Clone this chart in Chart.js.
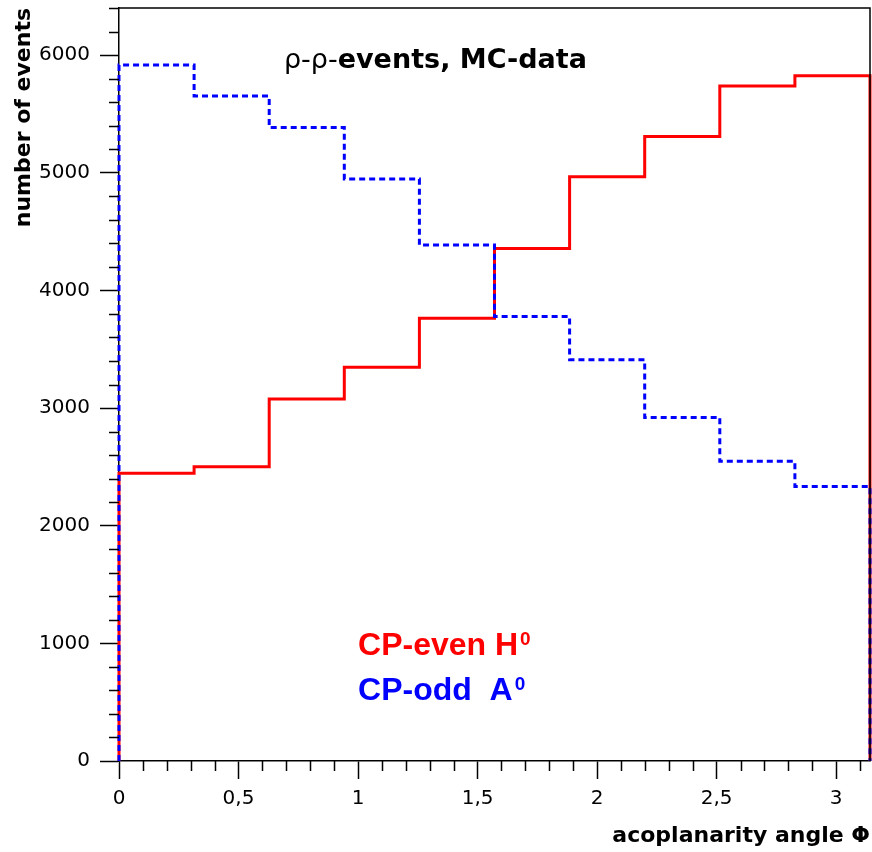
<!DOCTYPE html>
<html>
<head>
<meta charset="utf-8">
<script src="https://cdn.jsdelivr.net/npm/chart.js@4"></script>
<style>
  html, body { margin: 0; padding: 0; background: #fff; }
  #wrap { width: 872px; height: 852px; }
</style>
</head>
<body>
<div id="wrap"><canvas id="hist"></canvas></div>
<script>
// bin contents, 10 bins over 0..pi
const cpEven = [2445, 2500, 3076, 3346, 3764, 4355, 4965, 5308, 5737, 5824];
const cpOdd = [5915, 5651, 5385, 4947, 4385, 3778, 3411, 2920, 2547, 2334];
const nBins = 10;
const binEdges = Array.from({length: nBins + 1}, (_, i) => i * Math.PI / nBins);
const xTicks = [0, 0.5, 1, 1.5, 2, 2.5, 3];
const yTicks = [0, 1000, 2000, 3000, 4000, 5000, 6000];
const seriesNames = ["CP-even H", "CP-odd  A"];
const titleRho = "\u03c1-\u03c1-";
const titleRest = "events, MC-data";
const xTitle = "acoplanarity angle \u03a6";
const yTitle = "number of events";

function histPoints(values) {
  const pts = [{x: binEdges[0], y: 0}];
  values.forEach((v, i) => pts.push({x: binEdges[i], y: v}));
  pts.push({x: binEdges[nBins], y: values[values.length - 1]});
  pts.push({x: binEdges[nBins], y: 0});
  return pts;
}

// minor ticks + frame + texts
const decor = {
  id: "decor",
  afterDraw(chart) {
    const {ctx, chartArea: a, scales: {x, y}} = chart;
    ctx.save();
    ctx.strokeStyle = "#000";
    ctx.lineWidth = 1.5;
    ctx.beginPath();
    for (let k = 0; k <= 31; k++) {
      if (k % 5 === 0) continue;
      const px = Math.round(x.getPixelForValue(k / 10)) + 0.5;
      ctx.moveTo(px, a.bottom);
      ctx.lineTo(px, a.bottom + 10);
    }
    for (let k = 0; k <= 32; k++) {
      if (k % 5 === 0) continue;
      const py = Math.round(y.getPixelForValue(k * 200)) + 0.5;
      ctx.moveTo(a.left, py);
      ctx.lineTo(a.left - 10, py);
    }
    // top and right frame
    ctx.moveTo(a.left, a.top);
    ctx.lineTo(a.right, a.top);
    ctx.lineTo(a.right, a.bottom);
    ctx.stroke();

    ctx.textBaseline = "alphabetic";
    ctx.fillStyle = "#000";
    let tx = x.getPixelForValue(0.69);
    const ty = y.getPixelForValue(5890);
    ctx.font = "27px 'DejaVu Sans'";
    ctx.fillText(titleRho, tx, ty);
    tx += ctx.measureText(titleRho).width;
    ctx.font = "bold 27px 'DejaVu Sans'";
    ctx.fillText(titleRest, tx, ty);

    const lines = [
      {text: seriesNames[0], color: chart.data.datasets[1].borderColor, yv: 901},
      {text: seriesNames[1], color: chart.data.datasets[0].borderColor, yv: 518}
    ];
    lines.forEach(l => {
      const px = x.getPixelForValue(1.0);
      const py = y.getPixelForValue(l.yv);
      ctx.fillStyle = l.color;
      ctx.font = "bold 32px 'Liberation Sans'";
      ctx.fillText(l.text, px, py);
      const w = ctx.measureText(l.text).width;
      ctx.font = "bold 19px 'Liberation Sans'";
      ctx.fillText("0", px + w + 2, py - 10);
    });
    ctx.restore();
  }
};

new Chart(document.getElementById("hist"), {
  type: "line",
  data: {
    datasets: [{
      label: seriesNames[1],
      data: histPoints(cpOdd),
      borderColor: "#0000ff",
      borderWidth: 3,
      borderDash: [6, 4],
      stepped: "before",
      pointRadius: 0,
      fill: false,
      clip: false,
      order: 0
    }, {
      label: seriesNames[0],
      data: histPoints(cpEven),
      borderColor: "#ff0000",
      borderWidth: 3,
      stepped: "before",
      pointRadius: 0,
      fill: false,
      clip: false,
      order: 1
    }]
  },
  options: {
    responsive: true,
    maintainAspectRatio: false,
    animation: false,
    layout: {padding: {top: 8, right: 2, left: 0, bottom: 0}},
    plugins: {
      legend: {display: false},
      title: {display: false},
      tooltip: {enabled: false}
    },
    scales: {
      x: {
        type: "linear",
        min: 0,
        max: Math.PI,
        border: {color: "#000", width: 1.5},
        grid: {drawOnChartArea: false, tickLength: 18, tickColor: "#000", tickWidth: 1.5},
        afterBuildTicks(s) { s.ticks = xTicks.map(v => ({value: v})); },
        ticks: {
          maxRotation: 0,
          autoSkip: false,
          padding: 8,
          color: "#000",
          font: {family: "DejaVu Sans", size: 20},
          callback: v => String(v).replace(".", ",")
        },
        title: {
          display: true,
          text: xTitle,
          align: "end",
          color: "#000",
          font: {family: "DejaVu Sans", size: 22, weight: "bold"},
          padding: {top: 0, bottom: 3}
        },
        afterFit(s) { s.height = 91; s.paddingLeft = 0; s.paddingRight = 0; }
      },
      y: {
        type: "linear",
        min: 0,
        max: 6400,
        border: {color: "#000", width: 1.5},
        grid: {drawOnChartArea: false, tickLength: 19, tickColor: "#000", tickWidth: 1.5},
        afterBuildTicks(s) { s.ticks = yTicks.map(v => ({value: v})); },
        ticks: {
          autoSkip: false,
          padding: 10,
          color: "#000",
          font: {family: "DejaVu Sans", size: 20},
          callback: v => String(v)
        },
        title: {
          display: true,
          text: yTitle,
          align: "end",
          color: "#000",
          font: {family: "DejaVu Sans", size: 22, weight: "bold"},
          padding: {top: 11, bottom: 0}
        },
        afterFit(s) { s.width = 119; s.paddingTop = 0; s.paddingBottom = 0; }
      }
    }
  },
  plugins: [decor]
});
</script>
</body>
</html>
